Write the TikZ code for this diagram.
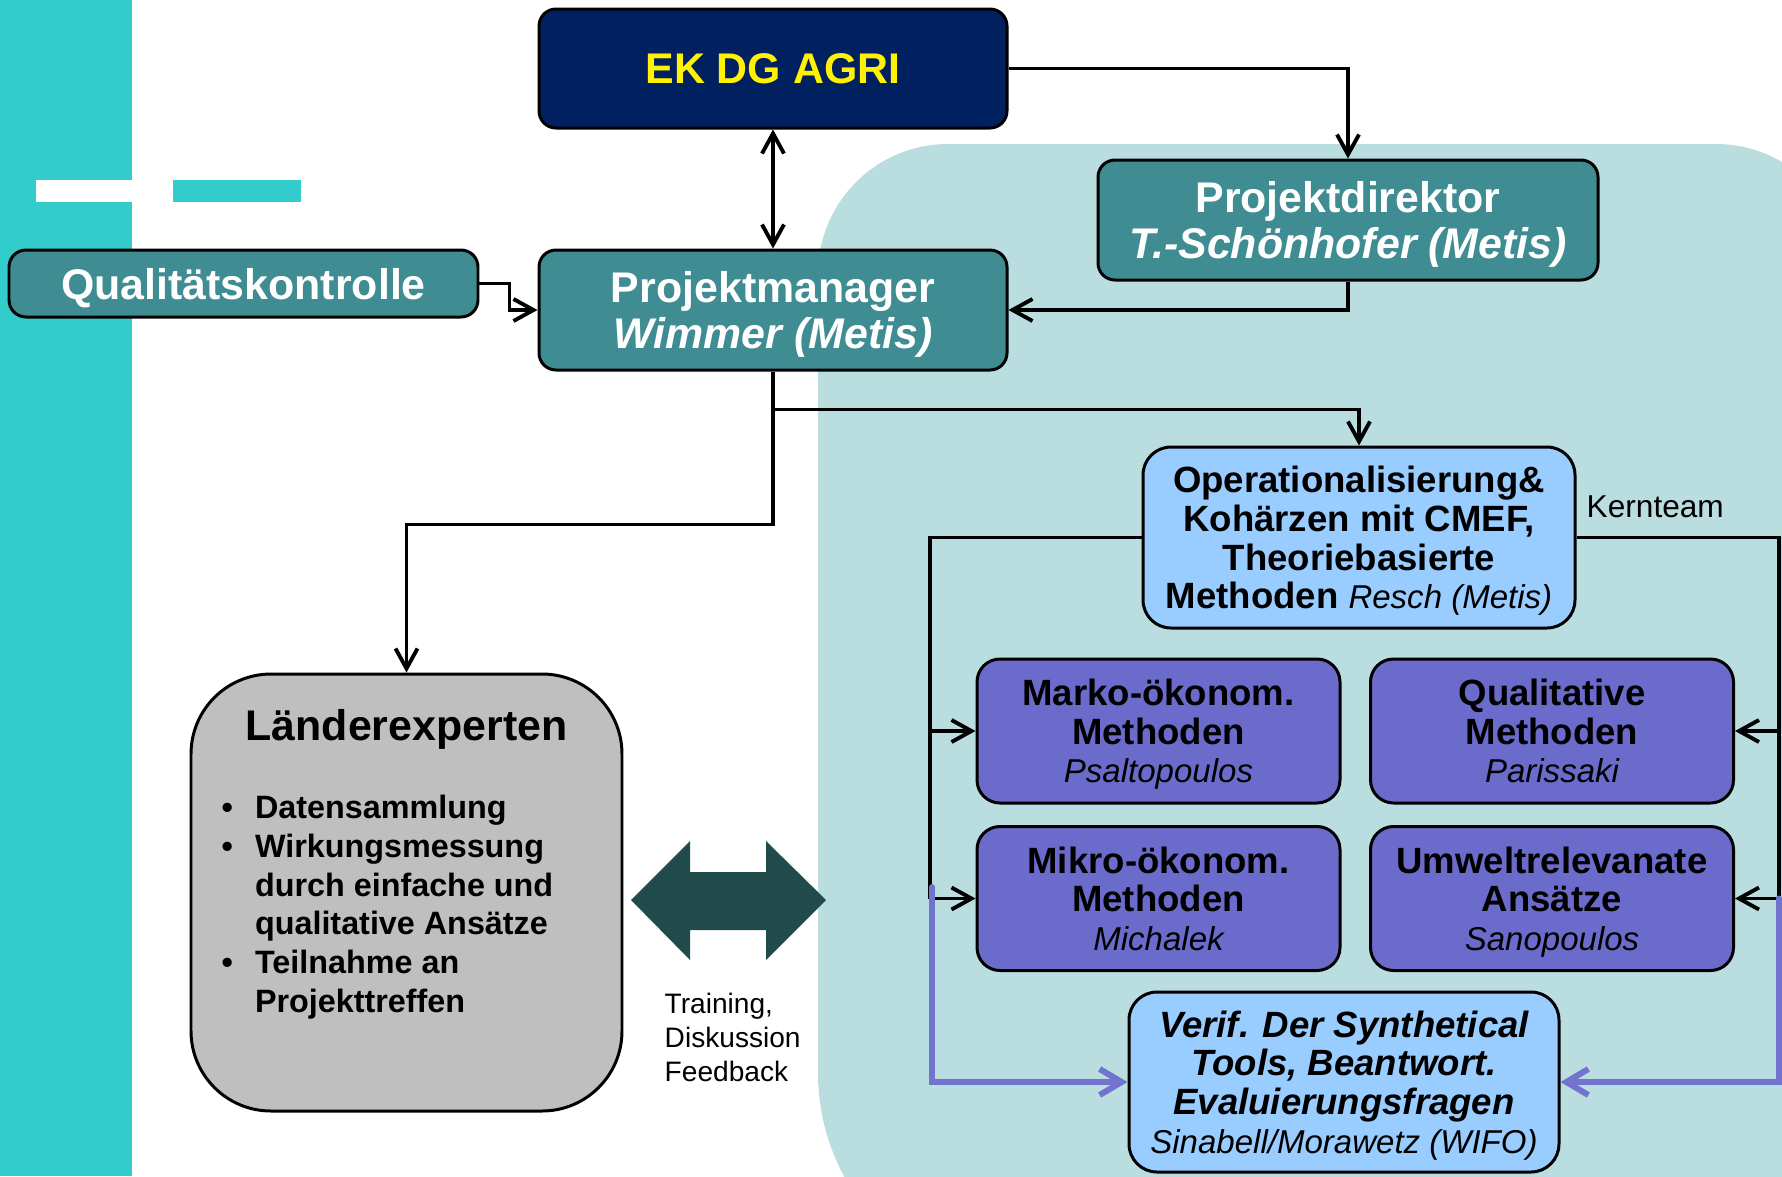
\documentclass[tikz,border=0pt]{standalone}
\usepackage{fontspec}
\setmainfont{Liberation Sans}
\usetikzlibrary{arrows.meta}

\definecolor{stripecyan}{HTML}{33CCCC}
\definecolor{kernblue}{HTML}{BADDE0}
\definecolor{agrinavy}{HTML}{002060}
\definecolor{leadteal}{HTML}{3F8C92}
\definecolor{corelight}{HTML}{99CCFF}
\definecolor{methodviolet}{HTML}{6B6BCC}
\definecolor{linkviolet}{HTML}{7272CF}
\definecolor{expertgrey}{HTML}{BFBFBF}
\definecolor{swapteal}{HTML}{214A4B}

\newcommand\bigbold{\fontsize{12.2}{13}\selectfont\bfseries}
\newcommand\midbold{\fontsize{10.4}{11}\selectfont\bfseries}
\newcommand\namefont{\fontsize{9.4}{11}\selectfont\mdseries\itshape}

\tikzset{
    orgbox/.style={
        draw=black, 
        line width=0.85pt, 
        rounded corners=1.7mm, 
        align=center, 
        text depth=0pt,
        inner sep=0pt},
    leadbox/.style={
        orgbox, 
        fill=leadteal, 
        text=white, 
        font=\bigbold},
    corebox/.style={
        orgbox, 
        fill=corelight, 
        rounded corners=2.8mm, 
        font=\midbold, 
        minimum width=43.2mm, 
        minimum height=18.1mm},
    methodbox/.style={
        orgbox, 
        fill=methodviolet, 
        rounded corners=2.3mm, 
        font=\midbold, 
        minimum width=36.3mm, 
        minimum height=14.4mm},
    link/.style={
        line width=1.1pt, 
        -{Straight Barb[length=2mm,width=2.2mm]}},
    twoway/.style={
        line width=1.1pt, 
        {Straight Barb[length=2mm,width=2.2mm]}-{Straight Barb[length=2mm,width=2.2mm]}},
    violetlink/.style={
        draw=linkviolet, 
        line width=1.7pt, 
        line cap=round,
        -{Straight Barb[length=2.2mm,width=2.6mm]}}
}

\begin{document}
\begin{tikzpicture}[x=0.1mm, y=-0.1mm]

\useasboundingbox (0,0) rectangle (1782,1176);
\clip (0,0) rectangle (1782,1176);

\fill [stripecyan] (0,0) rectangle (132,1176);
\fill [white] (36,180) rectangle (132,202);
\fill [stripecyan] (173,180) rectangle (301,202);
\fill [kernblue, rounded corners=13mm] (818,144) rectangle (1846,1000);
\fill [kernblue, rounded corners=21.7mm] (818,500) rectangle (1900,1290);

\node [orgbox, fill=agrinavy, text=yellow, font=\bigbold, minimum width=46.8mm, minimum height=11.9mm] (ek) at (773,68.5) {EK DG AGRI};
\node [leadbox, minimum width=50mm, minimum height=12mm] (pd) at (1348,220) {Projektdirektor\\\textit{T.-Schönhofer (Metis)}};
\node [leadbox, minimum width=46.8mm, minimum height=12mm] (pm) at (773,310) {Projektmanager\\\textit{Wimmer (Metis)}};
\node [leadbox, minimum width=46.9mm, minimum height=6.7mm] (qk) at (243.5,283.5) {Qualitätskontrolle};

\node [corebox] (op) at (1359,537.5) {Operationalisierung\&\\Kohärzen mit CMEF,\\Theoriebasierte\\Methoden {\namefont Resch (Metis)}};
\node [anchor=west, inner sep=0pt, font=\fontsize{9}{11}\selectfont] (kern) at (1586,507) {Kernteam};

\node [methodbox] (marko) at (1158.5,731) {Marko-ökonom.\\Methoden\\{\namefont Psaltopoulos}};
\node [methodbox] (quali) at (1552,731) {Qualitative\\Methoden\\{\namefont Parissaki}};
\node [methodbox] (mikro) at (1158.5,898.5) {Mikro-ökonom.\\Methoden\\{\namefont Michalek}};
\node [methodbox] (umwelt) at (1552,898.5) {Umweltrelevanate\\Ansätze\\{\namefont Sanopoulos}};

\node [corebox, font=\midbold\itshape, minimum width=43mm, minimum height=18mm] (verif) at (1344,1082) {Verif. Der Synthetical\\Tools, Beantwort.\\Evaluierungsfragen\\{\namefont Sinabell/Morawetz (WIFO)}};

\node [orgbox, fill=expertgrey, rounded corners=8mm, minimum width=43.1mm, minimum height=43.7mm] (laender) at (406.5,892.5) {};
\node [font=\bigbold] (laendertitle) at (406.5,729) {Länderexperten};
\node [anchor=north west, inner sep=0pt, font=\fontsize{9.2}{11}\selectfont\bfseries] (tasks) at (221,791) {%
    \begin{tabular}{@{}l@{\hspace{2.2mm}}l@{}}
    \textbullet & Datensammlung\\
    \textbullet & Wirkungsmessung\\
                & durch einfache und\\
                & qualitative Ansätze\\
    \textbullet & Teilnahme an\\
                & Projekttreffen
    \end{tabular}};

\fill [swapteal] (631,900) -- (690,841) -- (690,872) -- (766,872) -- (766,841) -- (826,900) 
    -- (766,960) -- (766,930) -- (690,930) -- (690,960) -- cycle;
\node [anchor=north west, align=left, inner sep=0pt, font=\fontsize{8}{9.7}\selectfont] (talk) at (664,992) {Training,\\Diskussion\\Feedback};

\draw [twoway] (ek) -- (pm);
\draw [link] (ek.east) -| (pd.north);
\draw [link] (pd.south) |- (pm.east);
\draw [link] (qk.east) -- ++(30,0) |- (pm.west);
\draw [link] (pm.south) -- ++(0,38) coordinate (split) -| (op.north);
\draw [link] (split) -- ++(0,115) -| (laender.north);

\coordinate (leftbus) at (930,898.5);
\coordinate (rightbus) at (1779,898.5);
\coordinate (violetstart) at (932,887);
\draw [line width=1.1pt] (op.west) -| (leftbus);
\draw [link] (leftbus |- marko.west) -- (marko.west);
\draw [link] (leftbus) -- (mikro.west);
\draw [line width=1.1pt] (op.east) -| (rightbus);
\draw [link] (rightbus |- quali.east) -- (quali.east);
\draw [link] (rightbus) -- (umwelt.east);
\draw [violetlink] (violetstart) |- (verif.west);
\draw [violetlink] (rightbus) |- (verif.east);

\end{tikzpicture}
\end{document}
